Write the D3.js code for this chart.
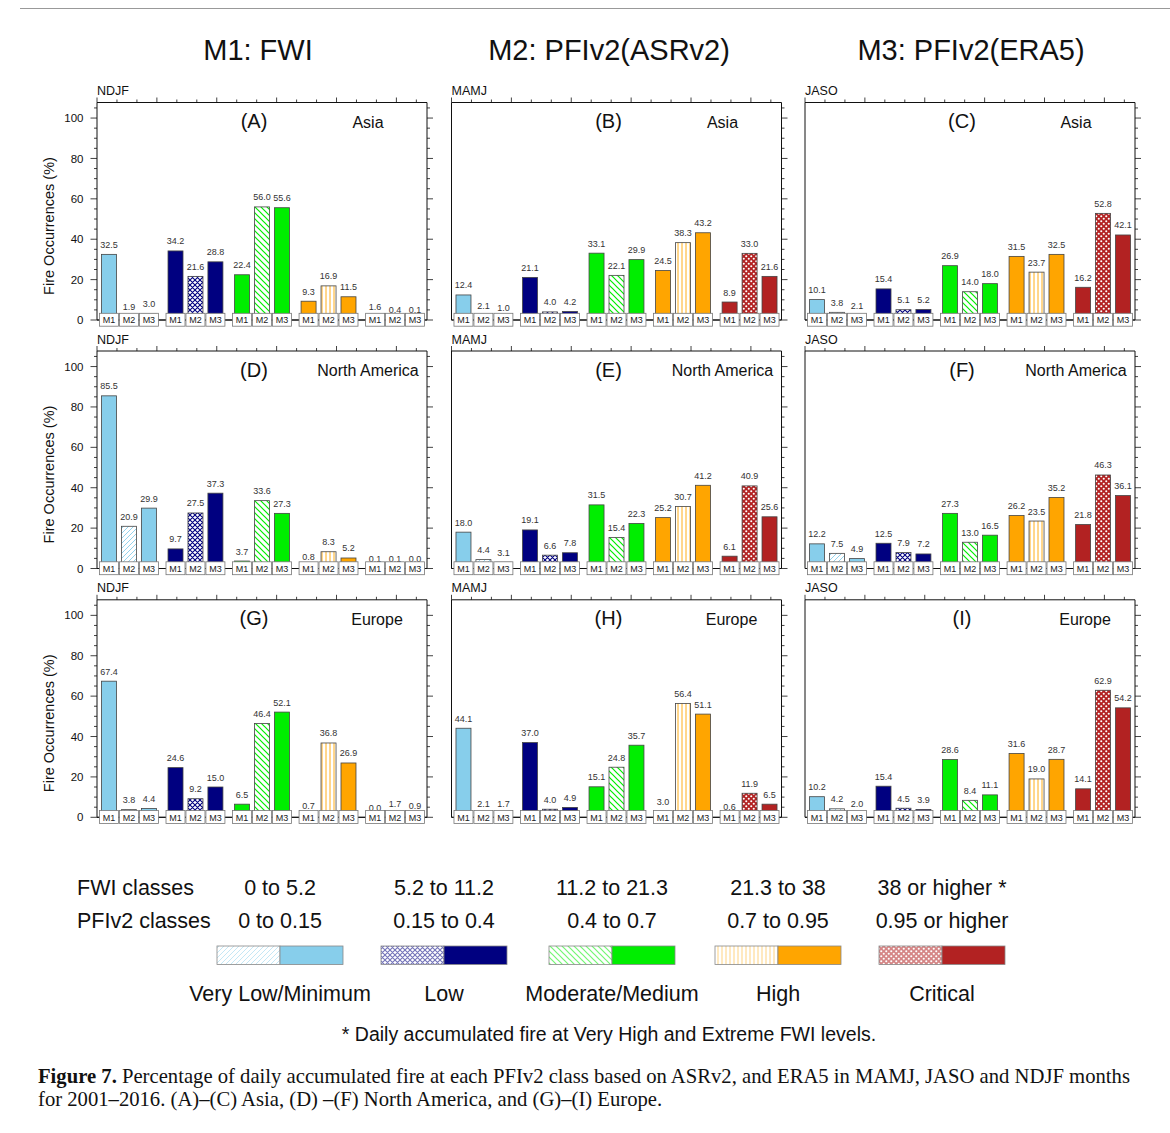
<!DOCTYPE html>
<html><head><meta charset="utf-8">
<script src="https://cdn.jsdelivr.net/npm/d3@7"></script>
<style>
body{margin:0;background:#fff}
svg{display:block}
text{font-family:"Liberation Sans",Arial,Helvetica,sans-serif}
</style>
</head><body>
<svg id="chart" width="1170" height="1133"></svg>
<script>
// ---------------- DATA ----------------
const columnTitles = ["M1: FWI", "M2: PFIv2(ASRv2)", "M3: PFIv2(ERA5)"];
const regions = ["Asia", "North America", "Europe"];
const seasons = ["NDJF", "MAMJ", "JASO"];
const panelLetters = ["A", "B", "C", "D", "E", "F", "G", "H", "I"];
const methods = ["M1", "M2", "M3"];
const fireClasses = ["Very Low/Minimum", "Low", "Moderate/Medium", "High", "Critical"];
const fwiClassRanges = ["0 to 5.2", "5.2 to 11.2", "11.2 to 21.3", "21.3 to 38", "38 or higher *"];
const pfiClassRanges = ["0 to 0.15", "0.15 to 0.4", "0.4 to 0.7", "0.7 to 0.95", "0.95 or higher"];
const yTickValues = [0, 20, 40, 60, 80, 100];

// values[class][method] : M1, M2, M3
const valuesA = [[32.5, 1.9, 3.0], [34.2, 21.6, 28.8], [22.4, 56.0, 55.6], [9.3, 16.9, 11.5], [1.6, 0.4, 0.1]];
const valuesB = [[12.4, 2.1, 1.0], [21.1, 4.0, 4.2], [33.1, 22.1, 29.9], [24.5, 38.3, 43.2], [8.9, 33.0, 21.6]];
const valuesC = [[10.1, 3.8, 2.1], [15.4, 5.1, 5.2], [26.9, 14.0, 18.0], [31.5, 23.7, 32.5], [16.2, 52.8, 42.1]];
const valuesD = [[85.5, 20.9, 29.9], [9.7, 27.5, 37.3], [3.7, 33.6, 27.3], [0.8, 8.3, 5.2], [0.1, 0.1, 0.0]];
const valuesE = [[18.0, 4.4, 3.1], [19.1, 6.6, 7.8], [31.5, 15.4, 22.3], [25.2, 30.7, 41.2], [6.1, 40.9, 25.6]];
const valuesF = [[12.2, 7.5, 4.9], [12.5, 7.9, 7.2], [27.3, 13.0, 16.5], [26.2, 23.5, 35.2], [21.8, 46.3, 36.1]];
const valuesG = [[67.4, 3.8, 4.4], [24.6, 9.2, 15.0], [6.5, 46.4, 52.1], [0.7, 36.8, 26.9], [0.0, 1.7, 0.9]];
const valuesH = [[44.1, 2.1, 1.7], [37.0, 4.0, 4.9], [15.1, 24.8, 35.7], [3.0, 56.4, 51.1], [0.6, 11.9, 6.5]];
const valuesI = [[10.2, 4.2, 2.0], [15.4, 4.5, 3.9], [28.6, 8.4, 11.1], [31.6, 19.0, 28.7], [14.1, 62.9, 54.2]];
const panelValues = [valuesA, valuesB, valuesC, valuesD, valuesE, valuesF, valuesG, valuesH, valuesI];

// ---------------- STYLE / LAYOUT ----------------
const classColors = ["#87CEEB", "#000080", "#00EE00", "#FFA500", "#B22222"];
const colLefts = [97, 451.5, 805];
const colTitleX = [258, 609, 971];
const rowBases = [320, 568.5, 817.3];
const panelW = 330, panelH = 217.5;
const regionOffset = {"Asia": 271, "North America": 271, "Europe": 280};
const legendCenters = [280, 444, 612, 778, 942];

const svg = d3.select("#chart");
svg.append("rect").attr("width", 1170).attr("height", 1133).attr("fill", "#fff");
svg.append("line").attr("x1", 20).attr("x2", 1170).attr("y1", 8.5).attr("y2", 8.5)
  .attr("stroke", "#999").attr("stroke-width", 1);

// ---------------- PATTERNS ----------------
const defs = svg.append("defs");
function pat(id, w, h, bg, draw) {
  const p = defs.append("pattern").attr("id", id).attr("patternUnits", "userSpaceOnUse")
    .attr("width", w).attr("height", h);
  p.append("rect").attr("width", w).attr("height", h).attr("fill", bg);
  draw(p);
}
function makePatterns(prefix, op) {
  pat(prefix + "0", 5, 5, "#fff", p => p.append("path").attr("d", "M0,5L5,0M-1,1L1,-1M4,6L6,4")
    .attr("stroke", classColors[0]).attr("stroke-width", 0.9).attr("stroke-opacity", op));
  pat(prefix + "1", 5, 5, "#fff", p => p.append("path").attr("d", "M0,5L5,0M-1,1L1,-1M4,6L6,4M0,0L5,5M-1,4L1,6M4,-1L6,1")
    .attr("stroke", classColors[1]).attr("stroke-width", 1.1).attr("stroke-opacity", op));
  pat(prefix + "2", 6, 6, "#fff", p => p.append("path").attr("d", "M0,0L6,6M-1,5L1,7M5,-1L7,1")
    .attr("stroke", classColors[2]).attr("stroke-width", 1.2).attr("stroke-opacity", op));
  pat(prefix + "3", 4, 4, "#fff", p => p.append("path").attr("d", "M2,0L2,4")
    .attr("stroke", classColors[3]).attr("stroke-width", 0.9).attr("stroke-opacity", op));
  pat(prefix + "4", 5, 5, "#fff", p => {
    p.append("rect").attr("width", 5).attr("height", 5).attr("fill", classColors[4]).attr("fill-opacity", op);
    p.append("circle").attr("cx", 1.25).attr("cy", 1.25).attr("r", 1.05).attr("fill", "#fff");
    p.append("circle").attr("cx", 3.75).attr("cy", 3.75).attr("r", 1.05).attr("fill", "#fff");
  });
}
makePatterns("p", 1);
makePatterns("lp", 0.55);

// ---------------- COLUMN TITLES ----------------
columnTitles.forEach((t, i) => {
  svg.append("text").attr("x", colTitleX[i]).attr("y", 60).attr("text-anchor", "middle")
    .attr("font-size", 29).attr("fill", "#111").text(t);
});

// ---------------- PANELS ----------------
const groupStep = 10 / 3;
for (let r = 0; r < 3; r++) {
  for (let c = 0; c < 3; c++) {
    const idx = r * 3 + c;
    const vals = panelValues[idx];
    const left = colLefts[c], y0 = rowBases[r];
    const x = d3.scaleLinear().domain([-0.6, 4 * groupStep + 2 + 0.6]).range([left, left + panelW]);
    const y = d3.scaleLinear().domain([0, 107.7]).range([y0, y0 - panelH]);
    const g = svg.append("g");
    const top = y.range()[1];

    // frame
    g.append("path").attr("d", `M${left},${y0}V${top}H${left + panelW}V${y0}H${left}`)
      .attr("fill", "none").attr("stroke", "#111").attr("stroke-width", 1);

    // top ticks (outward)
    const d0 = x.domain()[0];
    for (let k = 0; d0 + k <= x.domain()[1]; k++) {
      const xx = x(d0 + k);
      const major = k % 3 === 0;
      g.append("line").attr("x1", xx).attr("x2", xx).attr("y1", top).attr("y2", top - (major ? 5 : 3))
        .attr("stroke", "#111").attr("stroke-width", 0.8);
    }
    // right ticks (outward) and left ticks for first column
    for (let v = 0; v <= 105; v += 5) {
      const major = v % 20 === 0;
      const yy = y(v);
      g.append("line").attr("x1", left + panelW).attr("x2", left + panelW + (major ? 6 : 3))
        .attr("y1", yy).attr("y2", yy).attr("stroke", "#111").attr("stroke-width", 0.8);
      if (c === 0) {
        g.append("line").attr("x1", left).attr("x2", left - (major ? 6.5 : 3))
          .attr("y1", yy).attr("y2", yy).attr("stroke", "#111").attr("stroke-width", 0.8);
      }
    }
    if (c === 0) {
      yTickValues.forEach(v => {
        g.append("text").attr("x", left - 13.5).attr("y", y(v)).attr("dy", "0.36em")
          .attr("text-anchor", "end").attr("font-size", 11.5).attr("fill", "#111").text(v);
      });
      g.append("text").attr("transform", `translate(${left - 43},${y0 - 94}) rotate(-90)`)
        .attr("text-anchor", "middle").attr("font-size", 14.5).attr("fill", "#111")
        .text("Fire Occurrences (%)");
    }

    // season & panel labels
    g.append("text").attr("x", left).attr("y", y0 - 225).attr("font-size", 12.5).attr("fill", "#111")
      .text(seasons[c]);
    g.append("text").attr("x", left + 157).attr("y", y0 - 192).attr("text-anchor", "middle")
      .attr("font-size", 20).attr("fill", "#111").text(`(${panelLetters[idx]})`);
    g.append("text").attr("x", left + regionOffset[regions[r]]).attr("y", y0 - 192.5)
      .attr("text-anchor", "middle").attr("font-size", 16).attr("fill", "#111").text(regions[r]);

    // bars
    const flat = [];
    vals.forEach((row, gi) => row.forEach((v, j) => flat.push({gi, j, v, pos: gi * groupStep + j})));
    g.selectAll("rect.bar").data(flat).enter().append("rect").attr("class", "bar")
      .attr("x", d => x(d.pos) - 7.5).attr("width", 15)
      .attr("y", d => y(d.v)).attr("height", d => y0 - y(d.v))
      .attr("fill", d => d.j === 1 ? `url(#p${d.gi})` : classColors[d.gi])
      .attr("stroke", "#444").attr("stroke-width", 0.8);
    g.selectAll("text.val").data(flat).enter().append("text").attr("class", "val")
      .attr("x", d => x(d.pos)).attr("y", d => y(d.v) - 6.5).attr("text-anchor", "middle")
      .attr("font-size", 9).attr("fill", "#333").text(d => d.v.toFixed(1));

    // bottom axis line & method boxes
    g.append("line").attr("x1", left).attr("x2", left + panelW).attr("y1", y0).attr("y2", y0)
      .attr("stroke", "#111").attr("stroke-width", 1);
    g.selectAll("rect.box").data(flat).enter().append("rect").attr("class", "box")
      .attr("x", d => x(d.pos) - 9.5).attr("width", 19).attr("y", y0 - 6.7).attr("height", 12.9)
      .attr("fill", "#fff").attr("stroke", "#777").attr("stroke-width", 0.8);
    g.selectAll("text.m").data(flat).enter().append("text").attr("class", "m")
      .attr("x", d => x(d.pos)).attr("y", d => y0 + 3.4).attr("text-anchor", "middle")
      .attr("font-size", 9).attr("fill", "#222").text(d => methods[d.j]);
  }
}

// ---------------- LEGEND ----------------
const lg = svg.append("g");
lg.append("text").attr("x", 77).attr("y", 895).attr("font-size", 21.5).attr("fill", "#111").text("FWI classes");
lg.append("text").attr("x", 77).attr("y", 928).attr("font-size", 21.5).attr("fill", "#111").text("PFIv2 classes");
fireClasses.forEach((name, i) => {
  const cx = legendCenters[i];
  lg.append("text").attr("x", cx).attr("y", 895).attr("text-anchor", "middle").attr("font-size", 21.5)
    .attr("fill", "#111").text(fwiClassRanges[i]);
  lg.append("text").attr("x", cx).attr("y", 928).attr("text-anchor", "middle").attr("font-size", 21.5)
    .attr("fill", "#111").text(pfiClassRanges[i]);
  lg.append("rect").attr("x", cx - 63).attr("y", 946).attr("width", 63).attr("height", 18.5)
    .attr("fill", `url(#lp${i})`).attr("stroke", "#888").attr("stroke-width", 0.8);
  lg.append("rect").attr("x", cx).attr("y", 946).attr("width", 63).attr("height", 18.5)
    .attr("fill", classColors[i]).attr("stroke", "#888").attr("stroke-width", 0.8);
  lg.append("text").attr("x", cx).attr("y", 1001).attr("text-anchor", "middle").attr("font-size", 21.5)
    .attr("fill", "#111").text(name);
});
lg.append("text").attr("x", 609).attr("y", 1041).attr("text-anchor", "middle").attr("font-size", 19.5)
  .attr("fill", "#111").text("* Daily accumulated fire at Very High and Extreme FWI levels.");

// ---------------- CAPTION ----------------
const serif = "'Liberation Serif','Times New Roman',serif";
const l1 = svg.append("text").attr("x", 38).attr("y", 1083).attr("font-size", 18).attr("fill", "#111")
  .style("font-family", serif);
l1.append("tspan").attr("font-weight", "bold").text("Figure 7.");
l1.append("tspan").text(" Percentage of daily accumulated fire at each PFIv2 class based on ASRv2, and ERA5 in MAMJ, JASO and NDJF months");
const l2 = svg.append("text").attr("x", 38).attr("y", 1106).attr("font-size", 18).attr("fill", "#111")
  .style("font-family", serif)
  .text("for 2001\u20132016. (A)\u2013(C) Asia, (D) \u2013(F) North America, and (G)\u2013(I) Europe.");
const w1 = l1.node().getComputedTextLength();
const fs = 18 * 1093 / w1;
l1.attr("font-size", fs); l2.attr("font-size", fs);
</script>
</body></html>
